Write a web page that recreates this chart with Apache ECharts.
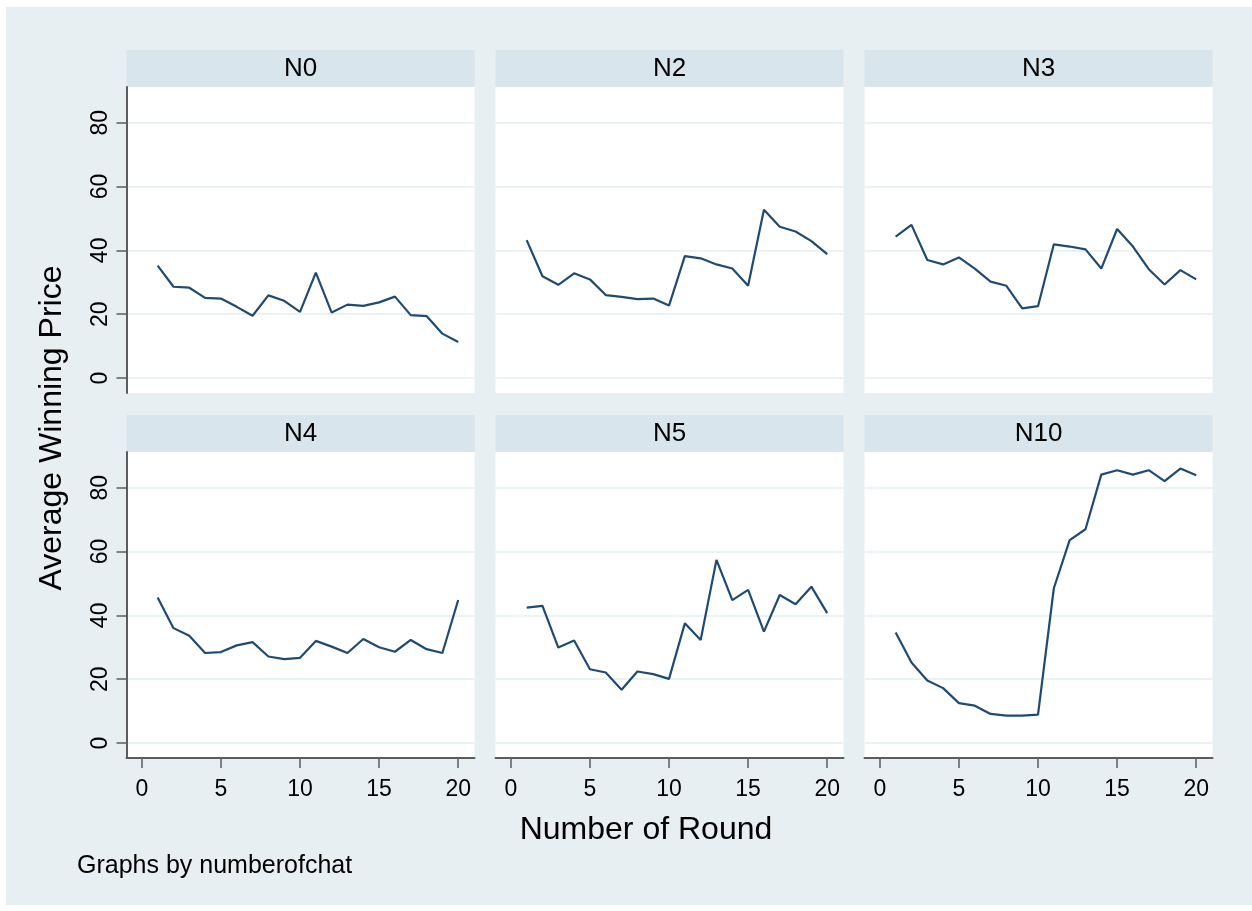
<!DOCTYPE html>
<html><head><meta charset="utf-8">
<script src="https://cdn.jsdelivr.net/npm/echarts@6/dist/echarts.min.js"></script>
<style>html,body{margin:0;padding:0;background:#fff;}#c{width:1252px;height:911px;}</style>
</head><body><div id="c"></div>
<script>
const rounds = [1,2,3,4,5,6,7,8,9,10,11,12,13,14,15,16,17,18,19,20];
const panelNames = ["N0","N2","N3","N4","N5","N10"];
const N0  = [35.2,28.6,28.3,25.1,24.9,22.3,19.5,25.9,24.2,20.7,33.0,20.5,23.0,22.6,23.7,25.5,19.7,19.4,13.9,11.3];
const N2  = [43.2,31.9,29.2,32.8,30.9,26.0,25.4,24.7,24.9,22.7,38.2,37.5,35.6,34.3,28.9,52.7,47.4,45.9,42.9,38.8];
const N3  = [44.3,48.0,37.0,35.6,37.8,34.3,30.2,28.9,21.8,22.5,41.9,41.2,40.3,34.3,46.7,41.2,34.1,29.3,33.8,30.9];
const N4  = [45.6,36.0,33.6,28.2,28.5,30.6,31.6,27.1,26.3,26.7,32.0,30.2,28.2,32.6,30.0,28.6,32.3,29.4,28.2,44.8];
const N5  = [42.4,43.0,29.9,32.1,23.1,22.1,16.7,22.4,21.6,20.1,37.5,32.3,57.4,44.8,48.0,34.9,46.4,43.5,49.0,40.7];
const N10 = [34.6,25.2,19.6,17.2,12.5,11.7,9.1,8.6,8.6,8.9,48.5,63.6,67.0,84.1,85.5,84.1,85.5,82.1,86.0,83.9];
const seriesValues = [N0,N2,N3,N4,N5,N10];
const xTicks = [0,5,10,15,20];
const yTicks = [0,20,40,60,80];
const yTitle = "Average Winning Price";
const xTitle = "Number of Round";
const note = "Graphs by numberofchat";

const FONT = "'Liberation Sans', Arial, sans-serif";
const BG = "#e8eff2", STRIP = "#d9e5ec", GRIDC = "#eaf2f4", LINE = "#1f4b73", AXC = "#5c5c5c";
const colL = [126.5, 495.5, 864.5], colW = 348;
const rowT = [87, 452], rowH = 306, stripH = 37;

const grids = [], xAxes = [], yAxes = [], series = [], graphics = [];
graphics.push({type:'rect', shape:{x:6,y:7,width:1246,height:898}, style:{fill:BG}, z:-10});
for (let i = 0; i < 6; i++) {
  const r = Math.floor(i/3), c = i%3;
  const bottomRow = r === 1, firstCol = c === 0;
  grids.push({left: colL[c], top: rowT[r], width: colW, height: rowH, show: true, backgroundColor: '#fff', borderWidth: 0});
  xAxes.push({
    type:'value', gridIndex:i, min:-0.97, max:21.03, show: bottomRow,
    axisLine:{show:bottomRow, onZero:false, lineStyle:{color:AXC, width:2}},
    axisTick:{show:bottomRow, length:10, customValues:xTicks, lineStyle:{color:AXC, width:1.5}},
    axisLabel:{show:bottomRow, customValues:xTicks, margin:20, color:'#000', fontSize:23, fontFamily:FONT, showMinLabel:true, showMaxLabel:true},
    splitLine:{show:false}
  });
  yAxes.push({
    type:'value', gridIndex:i, min:-4.7, max:91.2,
    axisLine:{show:firstCol, onZero:false, lineStyle:{color:AXC, width:2}},
    axisTick:{show:firstCol, length:10, customValues:yTicks, lineStyle:{color:AXC, width:1.5}},
    axisLabel:{show:firstCol, customValues:yTicks, rotate:90, margin:14, color:'#000', fontSize:23, fontFamily:FONT},
    splitLine:{show:true, customValues:yTicks, lineStyle:{color:GRIDC, width:2}}
  });
  series.push({
    type:'line', xAxisIndex:i, yAxisIndex:i, showSymbol:false, symbol:'none',
    lineStyle:{color:LINE, width:2.2}, animation:false,
    data: rounds.map((x,k)=>[x, seriesValues[i][k]])
  });
  graphics.push({type:'rect', shape:{x:colL[c], y:rowT[r]-stripH, width:colW, height:stripH}, style:{fill:STRIP}});
  graphics.push({type:'text', x:colL[c]+colW/2, y:rowT[r]-stripH/2, style:{text:panelNames[i], fill:'#000', font:'26px '+FONT, textAlign:'center', textVerticalAlign:'middle'}});
}
graphics.push({type:'text', x:52, y:428, rotation:Math.PI/2, style:{text:yTitle, fill:'#000', font:'32px '+FONT, textAlign:'center', textVerticalAlign:'middle'}});
graphics.push({type:'text', x:646, y:830, style:{text:xTitle, fill:'#000', font:'32px '+FONT, textAlign:'center', textVerticalAlign:'middle'}});
graphics.push({type:'text', x:77, y:866, style:{text:note, fill:'#000', font:'25px '+FONT, textAlign:'left', textVerticalAlign:'middle'}});

const chart = echarts.init(document.getElementById('c'), null, {renderer:'canvas'});
chart.setOption({animation:false, backgroundColor:'#fff', grid:grids, xAxis:xAxes, yAxis:yAxes, series:series, graphic:graphics});
</script></body></html>
